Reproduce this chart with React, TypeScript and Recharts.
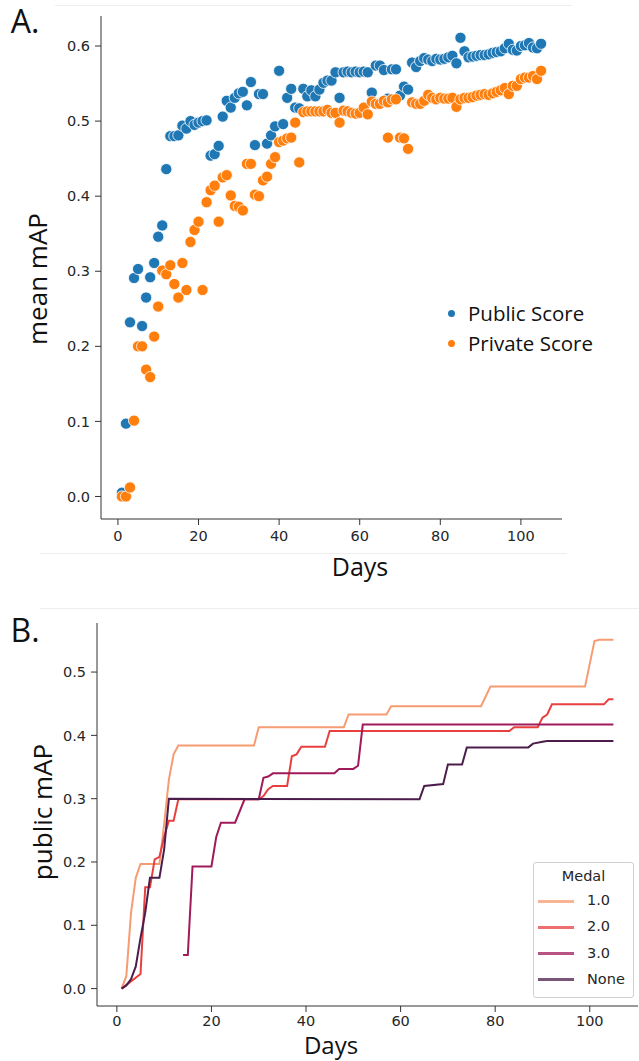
import { Line, LineChart, Scatter, ScatterChart, XAxis, YAxis } from 'recharts';

// panel A: one submission per day, days 1..105
const publicScore = [
  0.005, 0.097, 0.232, 0.291, 0.303, 0.227, 0.265, 0.292, 0.311, 0.346,
  0.361, 0.436, 0.48, 0.48, 0.481, 0.494, 0.49, 0.5, 0.495, 0.498,
  0.5, 0.501, 0.454, 0.456, 0.467, 0.506, 0.527, 0.518, 0.531, 0.537,
  0.539, 0.521, 0.552, 0.468, 0.536, 0.536, 0.47, 0.481, 0.493, 0.567,
  0.496, 0.531, 0.543, 0.518, 0.517, 0.543, 0.533, 0.541, 0.533, 0.542,
  0.551, 0.554, 0.554, 0.565, 0.531, 0.565, 0.566, 0.565, 0.566, 0.565,
  0.566, 0.565, 0.538, 0.574, 0.574, 0.568, 0.53, 0.569, 0.569, 0.534,
  0.546, 0.542, 0.578, 0.572, 0.58, 0.584, 0.582, 0.58, 0.583, 0.582,
  0.583, 0.585, 0.587, 0.577, 0.611, 0.593, 0.585, 0.586, 0.587, 0.588,
  0.588, 0.589, 0.591, 0.592, 0.593, 0.597, 0.603, 0.595, 0.594, 0.6,
  0.601, 0.604, 0.598, 0.597, 0.603,
];
const privateScore = [
  0.0, 0.0, 0.012, 0.101, 0.2, 0.2, 0.169, 0.159, 0.213, 0.253,
  0.301, 0.296, 0.308, 0.283, 0.265, 0.311, 0.275, 0.339, 0.355, 0.366,
  0.275, 0.392, 0.408, 0.414, 0.366, 0.425, 0.428, 0.401, 0.387, 0.386,
  0.381, 0.443, 0.443, 0.402, 0.4, 0.421, 0.426, 0.443, 0.452, 0.472,
  0.474, 0.477, 0.478, 0.498, 0.445, 0.512, 0.513, 0.513, 0.513, 0.513,
  0.513, 0.515, 0.511, 0.511, 0.498, 0.514, 0.513, 0.511, 0.51, 0.511,
  0.518, 0.509, 0.526, 0.523, 0.523, 0.527, 0.525, 0.529, 0.529, 0.478,
  0.477, 0.463, 0.525, 0.523, 0.523, 0.527, 0.535, 0.531, 0.529, 0.531,
  0.53, 0.53, 0.531, 0.519, 0.529, 0.531, 0.531, 0.532, 0.534, 0.535,
  0.536, 0.535, 0.537, 0.539, 0.541, 0.544, 0.536, 0.547, 0.547, 0.556,
  0.558, 0.558, 0.56, 0.556, 0.567,
];
// second private submission on the same day
const privateExtra: [number, number][] = [[67, 0.478]];

const scoreTicks = [0, 0.1, 0.2, 0.3, 0.4, 0.5, 0.6];
const dayTicks = [0, 20, 40, 60, 80, 100];

// panel B: best public mAP so far, [day, value] break points
const medalOne: [number, number][] = [
  [1, 0], [2, 0.02], [3, 0.12], [4, 0.175], [5, 0.197], [9, 0.197], [10, 0.26],
  [11, 0.33], [12, 0.37], [13, 0.384], [29, 0.384], [30, 0.413], [48, 0.413],
  [49, 0.433], [57, 0.433], [58, 0.446], [77, 0.446], [79, 0.477], [99, 0.477],
  [101, 0.549], [102, 0.551], [105, 0.551],
];
const medalTwo: [number, number][] = [
  [1, 0], [5, 0.023], [6, 0.16], [7, 0.16], [8, 0.204], [9, 0.208], [10, 0.24],
  [11, 0.265], [12, 0.265], [13, 0.299], [30, 0.299], [31, 0.304], [32, 0.315],
  [33, 0.32], [36, 0.32], [37, 0.367], [38, 0.37], [39, 0.382], [44, 0.382],
  [45, 0.407], [83, 0.407], [84, 0.413], [89, 0.413], [90, 0.428], [91, 0.433],
  [92, 0.449], [103, 0.449], [104, 0.457], [105, 0.457],
];
const medalThree: [number, number][] = [
  [14, 0.053], [15, 0.053], [16, 0.193], [20, 0.193], [21, 0.239], [22, 0.262],
  [25, 0.262], [27, 0.299], [30, 0.299], [31, 0.333], [32, 0.335], [33, 0.34],
  [46, 0.34], [47, 0.347], [50, 0.347], [51, 0.352], [52, 0.417], [105, 0.417],
];
const medalNone: [number, number][] = [
  [1, 0], [2, 0.005], [3, 0.015], [4, 0.035], [5, 0.08], [6, 0.12], [7, 0.175],
  [9, 0.175], [10, 0.22], [11, 0.3], [64, 0.299], [65, 0.32], [69, 0.323],
  [70, 0.354], [73, 0.354], [74, 0.381], [87, 0.381], [88, 0.387], [90, 0.39],
  [91, 0.391], [105, 0.391],
];
const medalNames = ['1.0', '2.0', '3.0', 'None'];
const medalColors = ['#f69c73', '#e83f3f', '#a11a5b', '#4c1d4b'];
const mapTicks = [0, 0.1, 0.2, 0.3, 0.4, 0.5];

const tickFont = { fontFamily: 'DejaVu Sans', fontSize: 14.5, fill: '#262626' };
const labelFont = { fontFamily: 'Open Sans', color: '#111' };

const toRows = (vals: number[]) => vals.map((v, i) => ({ day: i + 1, score: v }));
const pairRows = (pts: [number, number][]) => pts.map(([d, v]) => ({ day: d, score: v }));

function dot(color: string) {
  return (p: any) => (
    <circle cx={p.cx} cy={p.cy} r={5.6} fill={color} stroke="#fff" strokeWidth={0.8} />
  );
}

function Text({ x, y, size, children, rotate }: any) {
  return (
    <div
      style={{
        ...labelFont,
        position: 'absolute',
        left: x,
        top: y,
        fontSize: size,
        lineHeight: 1,
        whiteSpace: 'nowrap',
        transform: `translate(-50%, -50%)${rotate ? ' rotate(-90deg)' : ''}`,
      }}
    >
      {children}
    </div>
  );
}

export default function App() {
  const privateRows = [...toRows(privateScore), ...pairRows(privateExtra)];
  const medalData = [medalOne, medalTwo, medalThree, medalNone];

  return (
    <div style={{ position: 'absolute', left: 0, top: 0, width: 639, height: 1061, background: '#fff', overflow: 'hidden' }}>
      {/* faint separators from the source screenshot */}
      <div style={{ position: 'absolute', left: 55, top: 5, width: 517, height: 1, background: '#eee' }} />
      <div style={{ position: 'absolute', left: 40, top: 553, width: 527, height: 1, background: '#eee' }} />
      <div style={{ position: 'absolute', left: 40, top: 608, width: 599, height: 1, background: '#eee' }} />

      <div style={{ position: 'absolute', left: 0, top: 0 }}>
        <ScatterChart width={639} height={590} margin={{ top: 16, right: 77, bottom: 0, left: 0 }}>
          <XAxis
            type="number"
            dataKey="day"
            domain={[-4.2, 110.2]}
            ticks={dayTicks}
            height={71}
            stroke="#333"
            tickSize={6}
            tickMargin={6}
            tick={tickFont}
          />
          <YAxis
            type="number"
            dataKey="score"
            domain={[-0.03, 0.64]}
            ticks={scoreTicks}
            width={101}
            stroke="#333"
            tickSize={6}
            tickMargin={5}
            tick={tickFont}
            tickFormatter={(v: number) => v.toFixed(1)}
          />
          <Scatter data={toRows(publicScore)} shape={dot('#1f77b4')} isAnimationActive={false} />
          <Scatter data={privateRows} shape={dot('#ff7f0e')} isAnimationActive={false} />
        </ScatterChart>
      </div>

      <Text x={25} y={21} size={32}>A.</Text>
      <Text x={37} y={279} size={26} rotate>mean mAP</Text>
      <Text x={360} y={566} size={25}>Days</Text>

      {/* panel A legend */}
      <div style={{ position: 'absolute', left: 447.5, top: 309.5, width: 7, height: 7, borderRadius: 4, background: '#1f77b4' }} />
      <div style={{ position: 'absolute', left: 447.5, top: 339.5, width: 7, height: 7, borderRadius: 4, background: '#ff7f0e' }} />
      <div style={{ ...labelFont, position: 'absolute', left: 468, top: 302, fontSize: 20.5, lineHeight: '22px' }}>Public Score</div>
      <div style={{ ...labelFont, position: 'absolute', left: 468, top: 332, fontSize: 20.5, lineHeight: '22px' }}>Private Score</div>

      <div style={{ position: 'absolute', left: 0, top: 600 }}>
        <LineChart width={639} height={461} margin={{ top: 23, right: 1, bottom: 0, left: 0 }}>
          <XAxis
            type="number"
            dataKey="day"
            domain={[-4.2, 110.2]}
            ticks={dayTicks}
            height={55}
            stroke="#333"
            tickSize={6}
            tickMargin={4}
            tick={tickFont}
          />
          <XAxis xAxisId="top" orientation="top" type="number" domain={[-4.2, 110.2]} height={0} stroke="#333" tick={false} tickLine={false} />
          <YAxis
            type="number"
            dataKey="score"
            domain={[-0.0275, 0.5775]}
            ticks={mapTicks}
            width={97}
            stroke="#333"
            tickSize={6}
            tickMargin={5}
            tick={tickFont}
            tickFormatter={(v: number) => v.toFixed(1)}
          />
          <YAxis yAxisId="right" orientation="right" type="number" domain={[-0.0275, 0.5775]} width={0} stroke="#333" tick={false} tickLine={false} />
          {medalData.map((pts, i) => (
            <Line
              key={medalNames[i]}
              data={pairRows(pts)}
              dataKey="score"
              type="linear"
              stroke={medalColors[i]}
              strokeWidth={2}
              dot={false}
              isAnimationActive={false}
            />
          ))}
        </LineChart>
      </div>

      <Text x={25} y={630} size={32}>B.</Text>
      <Text x={42} y={812} size={26} rotate>public mAP</Text>
      <Text x={331} y={1045} size={24}>Days</Text>

      {/* panel B legend */}
      <div
        style={{
          position: 'absolute',
          left: 533,
          top: 862,
          width: 99,
          height: 134,
          border: '1px solid #d0d0d0',
          borderRadius: 3,
          background: 'rgba(255,255,255,0.85)',
          fontFamily: 'DejaVu Sans',
          fontSize: 14.5,
          color: '#262626',
        }}
      >
        <div style={{ position: 'absolute', left: 0, width: 99, top: 5, textAlign: 'center' }}>Medal</div>
        {medalNames.map((n, i) => (
          <div key={n}>
            <div style={{ position: 'absolute', left: 4, top: 38 + i * 26.3 - 1.5, width: 36, height: 3, background: medalColors[i], opacity: 0.75 }} />
            <div style={{ position: 'absolute', left: 53, top: 38 + i * 26.3 - 9 }}>{n}</div>
          </div>
        ))}
      </div>
    </div>
  );
}
